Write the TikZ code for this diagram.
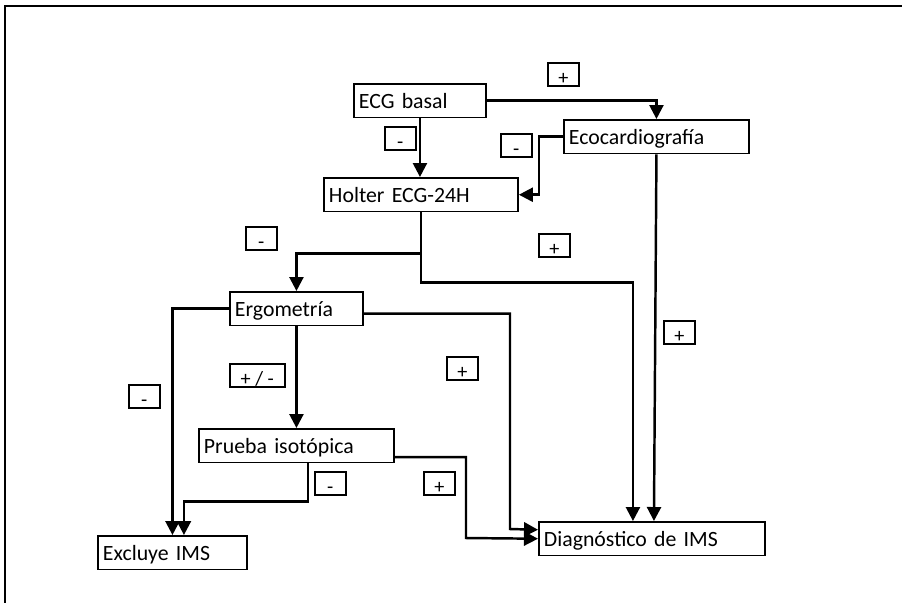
\documentclass[tikz,border=0pt]{standalone}
\usepackage{fontspec}
\setmainfont{Carlito}
\usetikzlibrary{arrows.meta}

\begin{document}
\begin{tikzpicture}[x=0.02cm,y=-0.02cm,font=\fontsize{12.4}{14}\selectfont,
box/.style={draw,line width=1.1pt,anchor=north west,inner xsep=0.1cm,inner ysep=0pt,text depth=0.17cm,text height=0.5cm,align=left},
tag/.style={draw,line width=.9pt,anchor=north west,inner sep=0pt,minimum width=0.62cm,text depth=0.02cm,text height=0.44cm,font=\fontsize{11.5}{12}\selectfont},
arr/.style={-{Triangle[length=0.28cm,width=0.28cm]},line width=1.4pt}]
\useasboundingbox (0,0) rectangle (902,603);
\draw[line width=0.045cm] (902,6) -- (5,6) -- (5,603);
% steps of the work-up
\node[box,text width=2.44cm] (ecg) at (353,83) {ECG basal};
\node[box,text width=3.50cm] (eco) at (563,119) {Ecocardiografía};
\node[box,text width=3.68cm] (holter) at (323,177) {Holter ECG-24H};
\node[box,text width=2.46cm] (ergo) at (229,291) {Ergometría};
\node[box,text width=3.70cm] (prueba) at (198,428) {Prueba isotópica};
\node[box,text width=2.78cm] (excl) at (97,535) {Excluye IMS};
\node[box,text width=4.32cm] (diag) at (538,521) {Diagnóstico de IMS};
% result tags
\node[tag] (t1) at (547,62) {+};
\node[tag] (t2) at (384,126) {-};
\node[tag] (t3) at (500,133) {-};
\node[tag] (t4) at (245,226) {-};
\node[tag] (t5) at (538,233) {+};
\node[tag,minimum width=1.1cm] (t6) at (229,363) {+ / -};
\node[tag] (t7) at (446,356) {+};
\node[tag] (t8) at (663,320) {+};
\node[tag] (t9) at (128,384) {-};
\node[tag] (t10) at (314,471) {-};
\node[tag] (t11) at (423,471) {+};
% connectors
\draw[arr] (ecg.east) -| (eco.north);
\draw[arr] (ecg.south) -- (ecg.south |- holter.north);
\draw[arr] (eco.west) -- ++(-24,0) |- (holter.east);
\draw[arr] (holter.south) -- ++(0,41) -| (ergo.north);
\draw[arr] (holter.south) -- ++(0,70) -| ([xshift=-0.38cm]diag.north);
\draw[arr] (eco.south) -- ([xshift=0.04cm]diag.north);
\draw[arr] (ergo.west) -| (excl.north);
\draw[arr] (ergo.south) -- (ergo.south |- prueba.north);
\draw[arr] ([yshift=-0.1cm]ergo.east) -| (510,529) -- ([yshift=0.18cm]diag.west);
\draw[arr] ([xshift=0.23cm]prueba.south) -- ++(0,38) -| ([xshift=0.23cm]excl.north);
\draw[arr] ([yshift=-0.23cm]prueba.east) -| (466,538) -- (diag.west);
\end{tikzpicture}
\end{document}
